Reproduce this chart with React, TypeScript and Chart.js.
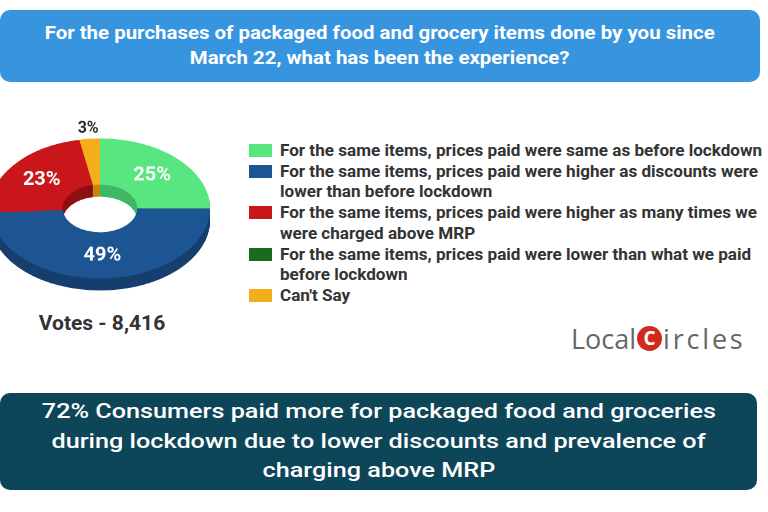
import React, { useEffect, useRef } from "react";
import { Chart, registerables } from "chart.js";
Chart.register(...registerables);

const titleLines = [
  "For the purchases of packaged food and grocery items done by you since",
  "March 22, what has been the experience?",
];
const categories = [
  "For the same items, prices paid were same as before lockdown",
  "For the same items, prices paid were higher as discounts were lower than before lockdown",
  "For the same items, prices paid were higher as many times we were charged above MRP",
  "For the same items, prices paid were lower than what we paid before lockdown",
  "Can't Say",
];
const legendLines = [
  ["For the same items, prices paid were same as before lockdown"],
  ["For the same items, prices paid were higher as discounts were", "lower than before lockdown"],
  ["For the same items, prices paid were higher as many times we", "were charged above MRP"],
  ["For the same items, prices paid were lower than what we paid", "before lockdown"],
  ["Can't Say"],
];
const values = [25, 49, 23, 0, 3];
const valueLabels = ["25%", "49%", "23%", "", "3%"];
const faceColors = ["#57e680", "#1d5592", "#c8161b", "#1b6b1f", "#f3ae1c"];
const sideColors = ["#3fb865", "#163f6e", "#8f0f12", "#124a15", "#c4880f"];
const votesText = "Votes - 8,416";
const footerLines = [
  "72% Consumers paid more for packaged food and groceries",
  "during lockdown due to lower discounts and prevalence of",
  "charging above MRP",
];

const SY = 0.636; // vertical squash of the tilted doughnut
const DEPTH = 19; // extrusion depth in canvas px

const depthPlugin = {
  id: "depth3d",
  beforeDatasetsDraw(chart: any) {
    const ctx = chart.ctx;
    const meta = chart.getDatasetMeta(0);
    ctx.save();
    for (let d = DEPTH; d >= 1; d--) {
      meta.data.forEach((arc: any, i: number) => {
        const p = arc.getProps(["x", "y", "startAngle", "endAngle", "innerRadius", "outerRadius"], true);
        if (p.endAngle - p.startAngle <= 0) return;
        ctx.fillStyle = sideColors[i];
        ctx.beginPath();
        ctx.arc(p.x, p.y + d, p.outerRadius, p.startAngle, p.endAngle);
        ctx.arc(p.x, p.y + d, p.innerRadius, p.endAngle, p.startAngle, true);
        ctx.closePath();
        ctx.fill();
      });
    }
    ctx.restore();
  },
  afterDatasetsDraw(chart: any) {
    const ctx = chart.ctx;
    const meta = chart.getDatasetMeta(0);
    meta.data.forEach((arc: any, i: number) => {
      const txt = valueLabels[i];
      if (!txt) return;
      const p = arc.getProps(["x", "y", "startAngle", "endAngle", "innerRadius", "outerRadius"], true);
      const mid = (p.startAngle + p.endAngle) / 2;
      const small = values[i] < 5;
      const r = small ? p.outerRadius + 16 : (p.innerRadius + p.outerRadius) / 2;
      const x = p.x + Math.cos(mid) * r;
      const y = p.y + Math.sin(mid) * r;
      ctx.save();
      ctx.translate(x, y);
      ctx.scale(1, 1 / SY);
      ctx.textAlign = "center";
      ctx.textBaseline = "middle";
      ctx.font = small ? "bold 16px Roboto" : "bold 20px Roboto";
      ctx.fillStyle = small ? "#2a2a2a" : "#ffffff";
      ctx.fillText(txt, 0, 0);
      ctx.restore();
    });
  },
};

function Doughnut() {
  const ref = useRef<HTMLCanvasElement>(null);
  useEffect(() => {
    if (!ref.current) return;
    const chart = new Chart(ref.current, {
      type: "doughnut",
      data: {
        labels: categories,
        datasets: [
          {
            data: values,
            backgroundColor: faceColors,
            borderWidth: 0,
          },
        ],
      },
      options: {
        responsive: false,
        animation: false,
        cutout: "34%",
        layout: { padding: { top: 40, bottom: 24, left: 10, right: 10 } },
        plugins: { legend: { display: false }, tooltip: { enabled: false } },
      },
      plugins: [depthPlugin],
    });
    return () => chart.destroy();
  }, []);
  return (
    <canvas
      ref={ref}
      width={240}
      height={284}
      style={{
        position: "absolute",
        left: -20,
        top: 112.6,
        transformOrigin: "0 0",
        transform: `scaleY(${SY})`,
      }}
    />
  );
}

export default function App() {
  return (
    <div
      style={{
        position: "absolute",
        left: 0,
        top: 0,
        width: 768,
        height: 512,
        overflow: "hidden",
        background: "#ffffff",
        fontFamily: "Roboto, sans-serif",
      }}
    >
      <div
        style={{
          position: "absolute",
          left: 0,
          top: 10,
          width: 760,
          height: 72,
          background: "#3795e0",
          borderRadius: 10,
          color: "#fff",
          fontWeight: 700,
          fontSize: 19,
          lineHeight: "25px",
          textAlign: "center",
          paddingTop: 10,
          boxSizing: "border-box",
        }}
      >
        {titleLines.map((l, i) => (
          <div key={i} style={{ whiteSpace: "nowrap" }}>
            <span style={{ display: "inline-block", transform: "scaleX(1.075)" }}>{l}</span>
          </div>
        ))}
      </div>

      <Doughnut />

      <div
        style={{
          position: "absolute",
          left: 0,
          width: 204,
          top: 311,
          textAlign: "center",
          fontWeight: 700,
          fontSize: 21,
          color: "#333",
        }}
      >
        {votesText}
      </div>

      <div style={{ position: "absolute", left: 249, top: 140, width: 519 }}>
        {legendLines.map((lines, i) => (
          <div key={i} style={{ position: "relative", paddingLeft: 31 }}>
            <div
              style={{
                position: "absolute",
                left: 0,
                top: 4,
                width: 23,
                height: 13,
                background: faceColors[i],
              }}
            />
            {lines.map((l, j) => (
              <div
                key={j}
                style={{
                  fontWeight: 700,
                  fontSize: 17.1,
                  lineHeight: "20.7px",
                  color: "#333",
                  whiteSpace: "nowrap",
                }}
              >
                {l}
              </div>
            ))}
          </div>
        ))}
      </div>

      <div
        style={{
          position: "absolute",
          left: 571,
          top: 321,
          fontFamily: '"Open Sans", sans-serif',
          fontSize: 27,
          color: "#666",
          display: "flex",
          alignItems: "center",
          height: 34,
        }}
      >
        <span>Local</span>
        <span
          style={{
            display: "inline-block",
            width: 25,
            height: 25,
            borderRadius: 13,
            background: "#d02a1c",
            color: "#fff",
            fontWeight: 700,
            fontSize: 19,
            lineHeight: "25px",
            textAlign: "center",
            margin: "0 1px",
          }}
        >
          C
        </span>
        <span style={{ letterSpacing: 2.8 }}>ircles</span>
      </div>

      <div
        style={{
          position: "absolute",
          left: 0,
          top: 393,
          width: 757,
          height: 97,
          background: "#0e4659",
          borderRadius: 10,
          color: "#fff",
          fontWeight: 500,
          fontSize: 21,
          lineHeight: "29.5px",
          textAlign: "center",
          paddingTop: 4,
          boxSizing: "border-box",
        }}
      >
        {footerLines.map((l, i) => (
          <div key={i} style={{ whiteSpace: "nowrap" }}>
            <span style={{ display: "inline-block", transform: "scaleX(1.2)" }}>{l}</span>
          </div>
        ))}
      </div>
    </div>
  );
}
